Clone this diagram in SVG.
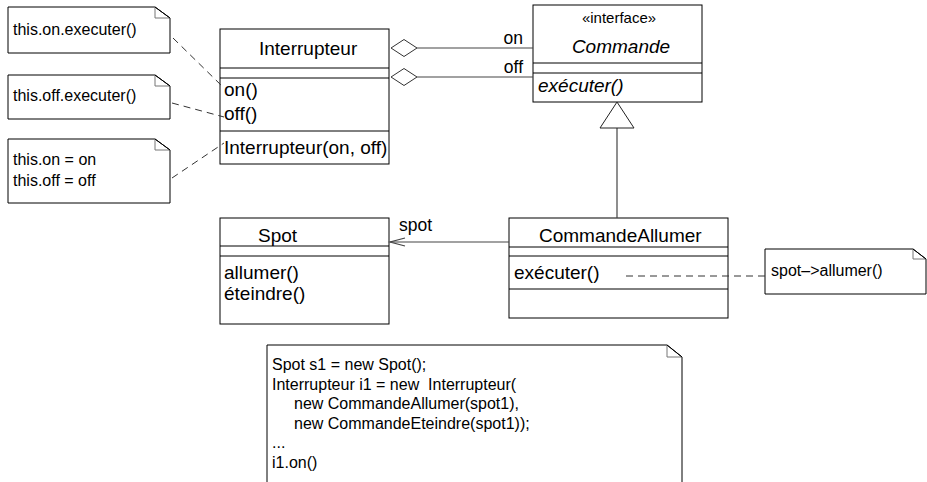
<svg xmlns="http://www.w3.org/2000/svg" width="927" height="482" viewBox="0 0 927 482">
<style>
  .box { fill: #fff; stroke: #000; stroke-width: 1; }
  .div { stroke: #000; stroke-width: 1; }
  .note { fill: #fff; stroke: #000; stroke-width: 1; }
  .fold { fill: none; stroke: #000; stroke-width: 1; }
  .foldin { fill: none; stroke: #777; stroke-width: 1; }
  .t { font-family: "Liberation Sans", Arial, sans-serif; font-size: 19px; fill: #000; }
  .ti { font-family: "Liberation Sans", Arial, sans-serif; font-size: 19px; font-style: italic; fill: #000; }
  .tn { font-family: "Liberation Sans", Arial, sans-serif; font-size: 16px; fill: #000; white-space: pre; }
  .ts { font-family: "Liberation Sans", Arial, sans-serif; font-size: 15px; fill: #000; }
  .tr { font-family: "Liberation Sans", Arial, sans-serif; font-size: 17.5px; fill: #000; }
  .c { stroke: #444; stroke-width: 1.2; fill: none; }
  .d { stroke: #333; stroke-width: 1; fill: none; stroke-dasharray: 7,5; }
</style>

<g id="note-on">
  <path class="note" d="M8,7 H155 L170,18 V53 H8 Z"/>
  <path class="foldin" d="M155,7 V18 H170"/>
  <path class="fold" d="M155,7 L170,18"/>
  <text class="tn" x="13" y="35">this.on.executer()</text>
</g>

<g id="note-off">
  <path class="note" d="M8,75 H155 L170,86 V119 H8 Z"/>
  <path class="foldin" d="M155,75 V86 H170"/>
  <path class="fold" d="M155,75 L170,86"/>
  <text class="tn" x="13" y="101">this.off.executer()</text>
</g>

<g id="note-ctor">
  <path class="note" d="M8,139 H155 L170,150 V203 H8 Z"/>
  <path class="foldin" d="M155,139 V150 H170"/>
  <path class="fold" d="M155,139 L170,150"/>
  <text class="tn" x="13" y="165">this.on = on</text>
  <text class="tn" x="13" y="186">this.off = off</text>
</g>

<g id="Interrupteur">
  <rect class="box" x="220" y="29" width="169" height="135"/>
  <line class="div" x1="220" y1="68" x2="389" y2="68"/>
  <line class="div" x1="220" y1="78" x2="389" y2="78"/>
  <line class="div" x1="220" y1="131" x2="389" y2="131"/>
  <text class="t" x="259" y="55">Interrupteur</text>
  <text class="t" x="224" y="96">on()</text>
  <text class="t" x="224" y="120">off()</text>
  <text class="t" x="224" y="154">Interrupteur(on, off)</text>
</g>

<g id="Commande">
  <rect class="box" x="533" y="5" width="169" height="97"/>
  <line class="div" x1="533" y1="63" x2="702" y2="63"/>
  <line class="div" x1="533" y1="73" x2="702" y2="73"/>
  <text class="ts" x="619" y="23" text-anchor="middle">«interface»</text>
  <text class="ti" x="621" y="53" text-anchor="middle">Commande</text>
  <text class="ti" x="538" y="92">exécuter()</text>
</g>

<g id="Spot">
  <rect class="box" x="220" y="218" width="169" height="106"/>
  <line class="div" x1="220" y1="246" x2="389" y2="246"/>
  <line class="div" x1="220" y1="256" x2="389" y2="256"/>
  <text class="t" x="258" y="242">Spot</text>
  <text class="t" x="224" y="279">allumer()</text>
  <text class="t" x="224" y="300">éteindre()</text>
</g>

<g id="CommandeAllumer">
  <rect class="box" x="509" y="218" width="219" height="100"/>
  <line class="div" x1="509" y1="247" x2="728" y2="247"/>
  <line class="div" x1="509" y1="256" x2="728" y2="256"/>
  <line class="div" x1="509" y1="289" x2="728" y2="289"/>
  <text class="t" x="539" y="242">CommandeAllumer</text>
  <text class="t" x="514" y="279">exécuter()</text>
</g>

<g id="note-spot">
  <path class="note" d="M765,249 H913 L926,259 V294 H765 Z"/>
  <path class="foldin" d="M913,249 V259 H926"/>
  <path class="fold" d="M913,249 L926,259"/>
  <text class="tn" x="771" y="276">spot–&gt;allumer()</text>
</g>

<g id="note-code">
  <path class="note" d="M267,345 H667 L682,357 V490 H267 Z"/>
  <path class="foldin" d="M667,345 V357 H682"/>
  <path class="fold" d="M667,345 L682,357"/>
  <text class="tn" x="272" y="370">Spot s1 = new Spot();</text>
  <text class="tn" x="272" y="389.5">Interrupteur i1 = new  Interrupteur(</text>
  <text class="tn" x="294" y="409">new CommandeAllumer(spot1),</text>
  <text class="tn" x="294" y="428.5">new CommandeEteindre(spot1));</text>
  <text class="tn" x="272" y="448">...</text>
  <text class="tn" x="272" y="467.5">i1.on()</text>
</g>

<g id="connectors">
  <!-- aggregations -->
  <line class="c" x1="417" y1="48" x2="533" y2="48"/>
  <polygon points="391,48 404,39.5 417,48 404,56.5" fill="#fff" stroke="#333" stroke-width="1"/>
  <line class="c" x1="417" y1="77" x2="533" y2="77"/>
  <polygon points="391,77 404,68.5 417,77 404,85.5" fill="#fff" stroke="#333" stroke-width="1"/>
  <text class="tr" x="523" y="44" text-anchor="end">on</text>
  <text class="tr" x="523" y="73" text-anchor="end">off</text>
  <!-- generalization -->
  <line class="c" x1="617" y1="128" x2="617" y2="218"/>
  <polygon points="617,102 600,128 634,128" fill="#fff" stroke="#222" stroke-width="1"/>
  <!-- association spot -->
  <line class="c" x1="390" y1="242" x2="509" y2="242"/>
  <polyline class="c" points="405,238 390,242 405,246"/>
  <text class="tr" x="399" y="231">spot</text>
  <!-- note links -->
  <line class="d" x1="173" y1="38" x2="224" y2="88"/>
  <line class="d" x1="172" y1="103" x2="224" y2="117"/>
  <line class="d" x1="172" y1="178" x2="224" y2="143"/>
  <line class="d" x1="626" y1="276" x2="765" y2="276" stroke-dasharray="8,5"/>
</g>
</svg>
